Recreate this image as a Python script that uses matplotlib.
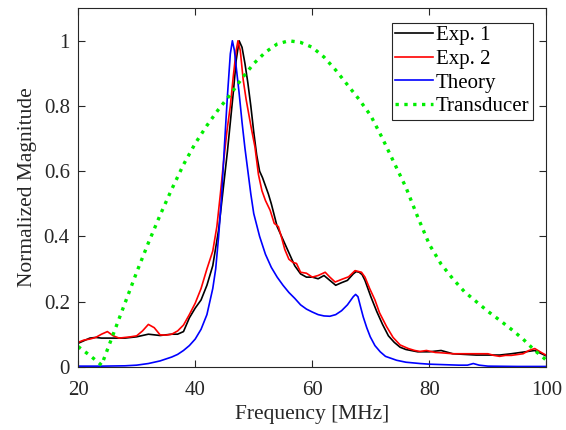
import matplotlib.pyplot as plt

plt.rcParams['font.family'] = ['Liberation Serif', 'DejaVu Serif']

# Exp. 1 (black)
f_exp1 = [20, 21, 22, 23, 24, 26, 28, 30, 32, 34, 36, 37, 38, 39, 40, 41, 42, 43, 44,
          44.5, 45, 45.5, 46, 46.5, 47, 47.5, 48, 48.5, 49, 49.5, 50, 50.5, 51, 51.5,
          52, 52.5, 53, 54, 55, 56, 57, 58, 59, 60, 61, 62, 63, 64, 65, 66, 67, 67.5,
          68, 68.5, 69, 70, 71, 72, 73, 74, 75, 76, 78, 80, 82, 84, 86, 88, 90, 92,
          94, 96, 98, 100]
exp1 = [0.072, 0.08, 0.088, 0.09, 0.088, 0.088, 0.088, 0.092, 0.1, 0.096, 0.1, 0.1,
        0.108, 0.15, 0.18, 0.205, 0.25, 0.31, 0.42, 0.5, 0.58, 0.66, 0.75, 0.84, 0.94,
        1.0, 0.98, 0.93, 0.87, 0.8, 0.72, 0.65, 0.6, 0.58, 0.555, 0.53, 0.5, 0.43,
        0.39, 0.35, 0.31, 0.285, 0.275, 0.275, 0.27, 0.28, 0.265, 0.25, 0.258, 0.265,
        0.285, 0.292, 0.29, 0.283, 0.265, 0.215, 0.17, 0.13, 0.095, 0.075, 0.06,
        0.053, 0.046, 0.046, 0.05, 0.04, 0.038, 0.036, 0.036, 0.036, 0.04, 0.045,
        0.05, 0.033]

# Exp. 2 (red)
f_exp2 = [20, 21, 22, 23, 24, 25, 26, 27, 28, 29, 30, 31, 32, 33, 34, 35, 36, 37, 38,
          39, 40, 41, 42, 43, 43.7, 44.3, 44.8, 45.4, 46, 46.5, 47, 47.3, 47.7, 48.2,
          48.7, 49.1, 49.6, 50.2, 50.8, 51.4, 52, 52.8, 53.5, 54.2, 54.7, 55.3, 56,
          56.7, 57.3, 58, 59, 60, 61, 62.2, 63, 63.9, 65, 66.2, 67.3, 68.4, 69, 69.8,
          70.7, 71.5, 72.7, 73.8, 75, 76.4, 77.5, 78.4, 79.5, 81, 82, 84, 86, 88, 90,
          91, 92, 93, 94, 96, 97, 98, 99, 100]
exp2 = [0.075, 0.082, 0.085, 0.09, 0.1, 0.108, 0.095, 0.088, 0.09, 0.092, 0.095, 0.11,
        0.13, 0.12, 0.098, 0.097, 0.1, 0.11, 0.128, 0.16, 0.195, 0.24, 0.3, 0.355,
        0.43, 0.53, 0.62, 0.72, 0.8, 0.89, 0.97, 1.0, 0.97, 0.88, 0.82, 0.78, 0.73,
        0.675, 0.59, 0.54, 0.51, 0.48, 0.44, 0.43, 0.4, 0.36, 0.33, 0.32, 0.317,
        0.29, 0.287, 0.275, 0.28, 0.29, 0.275, 0.26, 0.268, 0.276, 0.295, 0.29,
        0.275, 0.24, 0.205, 0.165, 0.123, 0.09, 0.067, 0.056, 0.05, 0.047, 0.05,
        0.044, 0.043, 0.04, 0.04, 0.04, 0.04, 0.035, 0.032, 0.035, 0.035, 0.04, 0.05,
        0.056, 0.045, 0.035]

# Theory (blue)
f_theory = [20, 24, 28, 30, 32, 34, 36, 37, 38, 39, 40, 41, 42, 43, 43.5, 44, 44.5,
            45, 45.5, 46, 46.35, 46.7, 47, 47.5, 48, 48.5, 49, 49.5, 50, 51, 52, 53,
            54, 55, 56, 57, 58, 59, 60, 61, 62, 63, 64, 65, 66, 67, 67.4, 67.8, 68.3,
            68.7, 69.3, 69.9, 70.7, 71.6, 72.5, 74.4, 76, 78.4, 80, 85, 86.5, 87.5,
            88.5, 90, 95, 100]
theory = [0.002, 0.002, 0.003, 0.005, 0.01, 0.018, 0.03, 0.038, 0.05, 0.065, 0.085,
          0.115, 0.16, 0.24, 0.3, 0.4, 0.52, 0.68, 0.83, 0.96, 1.0, 0.97, 0.92, 0.84,
          0.75, 0.67, 0.6, 0.53, 0.47, 0.4, 0.345, 0.305, 0.275, 0.25, 0.228, 0.21,
          0.19, 0.177, 0.168, 0.16, 0.156, 0.155, 0.16, 0.172, 0.19, 0.215, 0.222,
          0.215, 0.18, 0.153, 0.12, 0.092, 0.065, 0.046, 0.032, 0.02, 0.014, 0.01,
          0.008, 0.005, 0.005, 0.01, 0.005, 0.002, 0.001, 0.001]

# Transducer (green, dotted)
f_trans = [20, 22, 24, 26, 28, 30, 32, 34, 36, 38, 40, 42, 44, 46, 48, 50, 52, 54, 56,
           58, 60, 62, 64, 66, 68, 70, 72, 74, 76, 78, 80, 82, 84, 86, 88, 90, 92, 94,
           96, 98, 100]
trans = [0.062, 0.035, 0.005, 0.1, 0.195, 0.29, 0.38, 0.465, 0.545, 0.62, 0.685,
         0.74, 0.79, 0.835, 0.885, 0.93, 0.965, 0.99, 1.0, 0.995, 0.98, 0.95, 0.91,
         0.865, 0.82, 0.77, 0.7, 0.625, 0.55, 0.46, 0.375, 0.315, 0.27, 0.23, 0.2,
         0.17, 0.143, 0.115, 0.085, 0.05, 0.02]

fig = plt.figure(figsize=(5.66, 4.30), dpi=100)
ax = fig.add_axes([0.138, 0.147, 0.8275, 0.834])

ax.plot(f_exp1, exp1, color='black', lw=1.2, label='Exp. 1')
ax.plot(f_exp2, exp2, color='red', lw=1.2, label='Exp. 2')
ax.plot(f_theory, theory, color='blue', lw=1.2, label='Theory')
ax.plot(f_trans, trans, color='#00ee00', lw=2.4, ls=':', label='Transducer')

ax.set_xlim(20, 100)
ax.set_ylim(0, 1.1)
ax.set_xticks([20, 40, 60, 80, 100])
ax.set_yticks([0, 0.2, 0.4, 0.6, 0.8, 1])
ax.set_yticklabels(['0', '0.2', '0.4', '0.6', '0.8', '1'])
ax.tick_params(direction='in', top=True, right=True, length=5, labelsize=15,
               color='#262626', labelcolor='#262626', pad=6)
ax.tick_params(axis='x', pad=10)
for s in ax.spines.values():
    s.set_color('#262626')
    s.set_linewidth(0.8)

ax.set_xlabel('Frequency [MHz]', fontsize=15.5, color='#262626', labelpad=4)
ax.set_ylabel('Normalized Magnitude', fontsize=15.5, color='#262626', labelpad=5)

leg = ax.legend(loc='upper right', bbox_to_anchor=(0.9706, 0.96), borderaxespad=0,
                fontsize=15, fancybox=False, framealpha=1, edgecolor='#262626',
                handlelength=1.85, handletextpad=0.12, labelspacing=0.2,
                borderpad=0.15)
leg.get_frame().set_linewidth(0.8)

plt.savefig('out.png', dpi=100)
